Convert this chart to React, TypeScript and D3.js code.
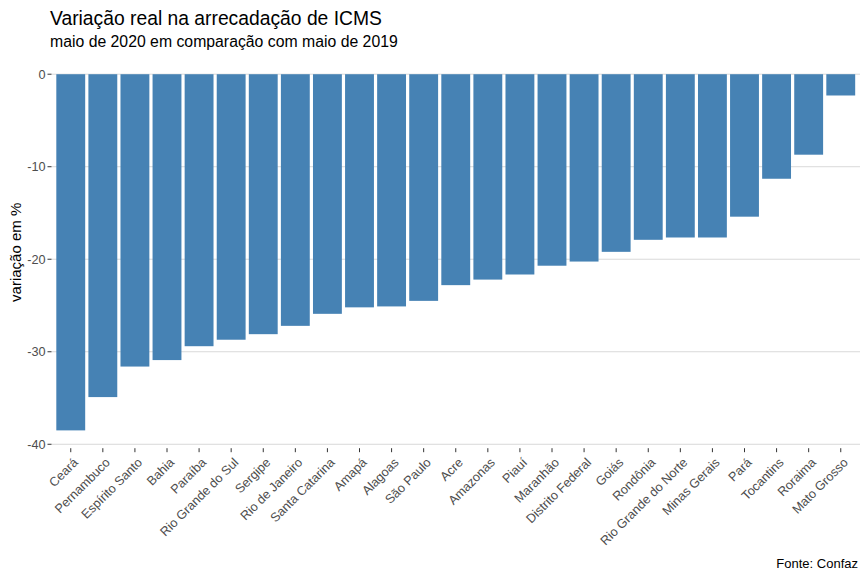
import React from "react";
import * as d3 from "d3";

const states = [
  "Ceará", "Pernambuco", "Espírito Santo", "Bahia", "Paraíba", "Rio Grande do Sul",
  "Sergipe", "Rio de Janeiro", "Santa Catarina", "Amapá", "Alagoas", "São Paulo",
  "Acre", "Amazonas", "Piauí", "Maranhão", "Distrito Federal", "Goiás", "Rondônia",
  "Rio Grande do Norte", "Minas Gerais", "Pará", "Tocantins", "Roraima", "Mato Grosso",
];
const values = [
  -38.5, -34.9, -31.6, -30.9, -29.4, -28.7,
  -28.1, -27.2, -25.9, -25.2, -25.1, -24.5,
  -22.8, -22.2, -21.65, -20.7, -20.25, -19.2, -17.9,
  -17.65, -17.65, -15.4, -11.3, -8.7, -2.3,
];
const yTicks = [0, -10, -20, -30, -40];

const W = 866;
const H = 578;
const FONT = "'Liberation Sans', Arial, Helvetica, sans-serif";

export default function App() {
  const left = 51.5, right = 860, top = 56.4, bottom = 448.2;
  const n = states.length;
  const step = (right - left) / (n - 1 + 1.2);
  const x = d3
    .scaleBand<string>()
    .domain(states)
    .range([left + 0.6 * step - step / 2, right - 0.6 * step + step / 2])
    .paddingInner(0.1)
    .paddingOuter(0.05);
  const xc = (s: string) => (x(s) as number) + x.bandwidth() / 2;
  const lo = Math.min(0, d3.min(values) as number);
  const hi = Math.max(0, d3.max(values) as number);
  const pad = (hi - lo) * 0.05;
  const y = d3.scaleLinear().domain([lo - pad, hi + pad]).range([bottom, top]);
  const bw = step * 0.9;

  return (
    <svg width={W} height={H} style={{ position: "absolute", left: 0, top: 0, background: "#fff" }} fontFamily={FONT}>
      <rect x={0} y={0} width={W} height={H} fill="#fff" />
      <text x={50} y={25} fontSize={19.3} fill="#000">Variação real na arrecadação de ICMS</text>
      <text x={50} y={47} fontSize={15.8} fill="#000">maio de 2020 em comparação com maio de 2019</text>
      {yTicks.map((t) => (
        <g key={t}>
          <line x1={left} x2={right} y1={y(t)} y2={y(t)} stroke="#d9d9d9" strokeWidth={1} />
          <line x1={left - 4} x2={left} y1={y(t)} y2={y(t)} stroke="#333" strokeWidth={1} />
          <text x={left - 6} y={y(t)} dy="0.35em" textAnchor="end" fontSize={12.7} fill="#4d4d4d">{t}</text>
        </g>
      ))}
      {states.map((s, i) => (
        <rect key={s} x={xc(s) - bw / 2} width={bw} y={y(Math.max(0, values[i]))} height={Math.abs(y(values[i]) - y(0))} fill="#4682b4" />
      ))}
      {states.map((s) => (
        <g key={s}>
          <line x1={xc(s)} x2={xc(s)} y1={bottom} y2={bottom + 4} stroke="#333" strokeWidth={1} />
          <text transform={`translate(${xc(s) + 8},${bottom + 15}) rotate(-45)`} textAnchor="end" fontSize={12.7} fill="#4d4d4d">{s}</text>
        </g>
      ))}
      <text transform={`translate(21,${(top + bottom) / 2}) rotate(-90)`} textAnchor="middle" fontSize={15} fill="#000">variação em %</text>
      <text x={858} y={568} textAnchor="end" fontSize={13} fill="#000">Fonte: Confaz</text>
    </svg>
  );
}
